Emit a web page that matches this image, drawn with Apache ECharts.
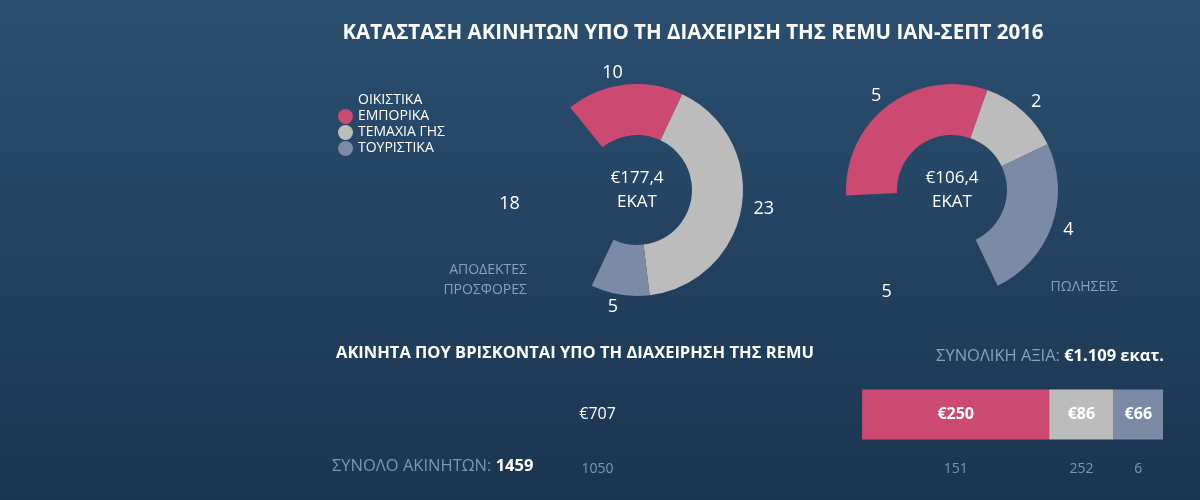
<!DOCTYPE html><html><head><meta charset="utf-8">
<script src="https://cdn.jsdelivr.net/npm/echarts@6/dist/echarts.min.js"></script>
<style>html,body{margin:0;padding:0}#c{width:1200px;height:500px}</style></head><body><div id="c"></div>
<script>
const categories=['ΟΙΚΙΣΤΙΚΑ','ΕΜΠΟΡΙΚΑ','ΤΕΜΑΧΙΑ ΓΗΣ','ΤΟΥΡΙΣΤΙΚΑ'];
const offers=[18,10,23,5];
const sales=[5,5,2,4];
const valuesEUR=[707,250,86,66];
const counts=[1050,151,252,6];
const colors=['rgba(0,0,0,0)','#cc4a72','#bcbcbc','#7b8ba6'];
const F='"Open Sans", Lato, sans-serif';
const chart=echarts.init(document.getElementById('c'));
function donutData(arr){
  const order=[1,2,3,0];
  return order.map(i=>({name:categories[i],value:arr[i],itemStyle:{color:colors[i]}}));
}
function donut(center,start,arr){
  return {type:'pie',center:center,radius:[55,106],startAngle:start,clockwise:true,silent:true,
    data:donutData(arr),label:{show:true,position:'outside',formatter:'{c}',color:'#fff',fontSize:18,fontFamily:F,distanceToLabelLine:0},
    labelLine:{show:false,length:12,length2:0},emphasis:{disabled:true}};
}
const bars=categories.map((c,i)=>({type:'bar',name:c,stack:'v',barWidth:50,
  data:[{value:valuesEUR[i],label:{show:true,position:'inside',formatter:'€'+valuesEUR[i],color:'#fff',fontSize:16,fontFamily:F,fontWeight:i?'bold':'normal'}},
        {value:valuesEUR[i],itemStyle:{color:'rgba(0,0,0,0)'},label:{show:true,position:'inside',formatter:String(counts[i]),color:'#7f95ad',fontSize:14,fontFamily:F}}],
  itemStyle:{color:colors[i]},silent:true}));
chart.setOption({
  backgroundColor:{type:'linear',x:0,y:0,x2:0,y2:1,colorStops:[{offset:0,color:'#2b4f70'},{offset:1,color:'#1b3550'}]},
  color:colors,
  title:[{text:'ΚΑΤΑΣΤΑΣΗ ΑΚΙΝΗΤΩΝ ΥΠΟ ΤΗ ΔΙΑΧΕΙΡΙΣΗ ΤΗΣ REMU ΙΑΝ-ΣΕΠΤ 2016',left:688,top:18,textAlign:'center',textStyle:{color:'#fff',fontSize:20.5,fontWeight:'bold',fontFamily:F}},
    {text:'ΑΚΙΝΗΤΑ ΠΟΥ ΒΡΙΣΚΟΝΤΑΙ ΥΠΟ ΤΗ ΔΙΑΧΕΙΡΗΣΗ ΤΗΣ REMU',left:331,top:340,textStyle:{color:'#fff',fontSize:16.5,fontWeight:'bold',fontFamily:F}}],
  legend:{orient:'vertical',left:333,top:88,itemGap:1,icon:'circle',itemWidth:15,itemHeight:15,data:categories,
    textStyle:{color:'#fff',fontSize:14,fontFamily:F},selectedMode:false},
  grid:{left:333,right:37,top:387,height:110},
  xAxis:{type:'value',min:0,max:1109,show:false},
  yAxis:{type:'category',data:['v','n'],inverse:true,show:false},
  graphic:[
    {type:'text',x:637,y:190,style:{text:'€177,4\nΕΚΑΤ',fill:'#fff',font:'17px '+F,align:'center',verticalAlign:'middle',lineHeight:24}},
    {type:'text',x:952,y:190,style:{text:'€106,4\nΕΚΑΤ',fill:'#fff',font:'17px '+F,align:'center',verticalAlign:'middle',lineHeight:24}},
    {type:'text',x:527,y:280,style:{text:'ΑΠΟΔΕΚΤΕΣ\nΠΡΟΣΦΟΡΕΣ',fill:'#8aa0b7',font:'14px '+F,align:'right',verticalAlign:'middle',lineHeight:20}},
    {type:'text',x:1118,y:287,style:{text:'ΠΩΛΗΣΕΙΣ',fill:'#8aa0b7',font:'14px '+F,align:'right',verticalAlign:'middle'}},
    {type:'text',x:1164,y:356,style:{text:'{a|ΣΥΝΟΛΙΚΗ ΑΞΙΑ: }{b|€1.109 εκατ.}',align:'right',verticalAlign:'middle',rich:{a:{fill:'#8aa0b7',font:'16.5px '+F},b:{fill:'#fff',font:'bold 16.5px '+F}}}},
    {type:'text',x:332,y:466,style:{text:'{a|ΣΥΝΟΛΟ ΑΚΙΝΗΤΩΝ: }{b|1459}',verticalAlign:'middle',rich:{a:{fill:'#7f95ad',font:'16.5px '+F},b:{fill:'#fff',font:'bold 16.5px '+F}}}}
  ],
  series:[donut([637,190],129,offers),donut([952,190],183,sales)].concat(bars)
});
</script></body></html>
